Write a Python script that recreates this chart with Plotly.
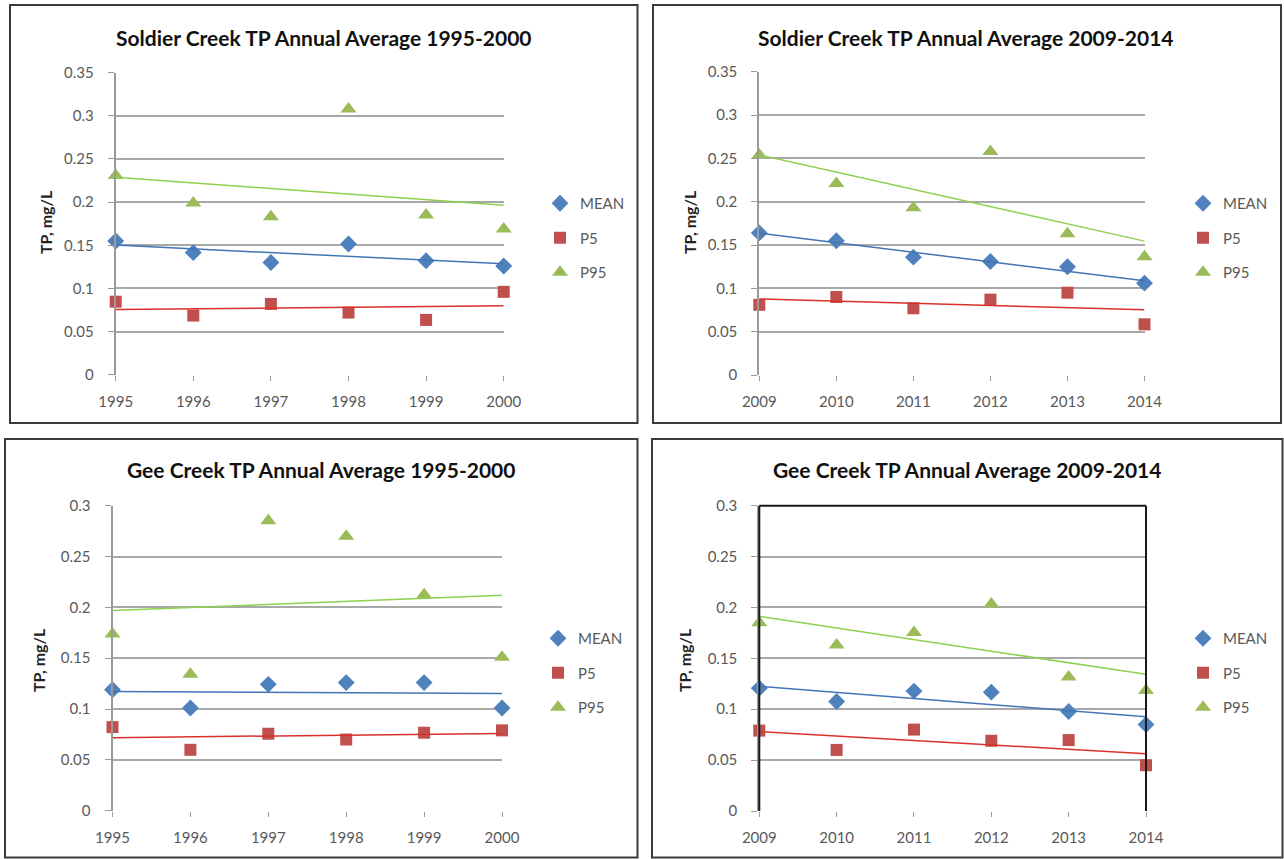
import numpy as np
import plotly.graph_objects as go

W, H = 1284, 859

# ---------------- data ----------------
years_early = [1995, 1996, 1997, 1998, 1999, 2000]
years_late = [2009, 2010, 2011, 2012, 2013, 2014]

soldier_early_mean = [0.155, 0.1415, 0.130, 0.1515, 0.132, 0.126]
soldier_early_p5 = [0.0846, 0.0685, 0.082, 0.072, 0.0635, 0.096]
soldier_early_p95 = [0.231, 0.199, 0.183, 0.308, 0.185, 0.169]

soldier_late_mean = [0.164, 0.155, 0.136, 0.131, 0.125, 0.106]
soldier_late_p5 = [0.081, 0.090, 0.077, 0.087, 0.095, 0.0585]
soldier_late_p95 = [0.254, 0.221, 0.193, 0.258, 0.163, 0.1365]

gee_early_mean = [0.119, 0.101, 0.1243, 0.126, 0.126, 0.101]
gee_early_p5 = [0.0822, 0.0599, 0.0757, 0.070, 0.0767, 0.079]
gee_early_p95 = [0.1737, 0.1342, 0.2852, 0.270, 0.2125, 0.151]

gee_late_mean = [0.1207, 0.1076, 0.1178, 0.1168, 0.0977, 0.0849]
gee_late_p5 = [0.079, 0.060, 0.080, 0.069, 0.0697, 0.045]
gee_late_p95 = [0.185, 0.163, 0.1753, 0.2033, 0.1316, 0.1184]

titles = [
    "Soldier Creek TP Annual Average 1995-2000",
    "Soldier Creek TP Annual Average 2009-2014",
    "Gee Creek TP Annual Average 1995-2000",
    "Gee Creek TP Annual Average 2009-2014",
]
series_names = ["MEAN", "P5", "P95"]
y_title = "TP, mg/L"

yticks_soldier = [0, 0.05, 0.1, 0.15, 0.2, 0.25, 0.3, 0.35]
yticklabels_soldier = ["0", "0.05", "0.1", "0.15", "0.2", "0.25", "0.3", "0.35"]
yticks_gee = [0, 0.05, 0.1, 0.15, 0.2, 0.25, 0.3]
yticklabels_gee = ["0", "0.05", "0.1", "0.15", "0.2", "0.25", "0.3"]

panels = [
    dict(x=years_early, s=[soldier_early_mean, soldier_early_p5, soldier_early_p95],
         yt=yticks_soldier, ytl=yticklabels_soldier),
    dict(x=years_late, s=[soldier_late_mean, soldier_late_p5, soldier_late_p95],
         yt=yticks_soldier, ytl=yticklabels_soldier),
    dict(x=years_early, s=[gee_early_mean, gee_early_p5, gee_early_p95],
         yt=yticks_gee, ytl=yticklabels_gee),
    dict(x=years_late, s=[gee_late_mean, gee_late_p5, gee_late_p95],
         yt=yticks_gee, ytl=yticklabels_gee),
]

# ---------------- styles / layout geometry (pixels) ----------------
marker_colors = ["#4F81BD", "#C0504D", "#9BBB59"]
trend_colors = ["#4275B5", "#D9302C", "#8ED04F"]
symbols = ["diamond", "square", "triangle-up"]
msizes = [13, 12, 14]

# plot areas: (x_left, x_right, y_top, y_bottom) in pixels
areas = [
    (115.7, 503.7, 72.7, 374.7),
    (759.3, 1144.5, 71.7, 375.0),
    (112.5, 502.0, 505.7, 810.7),
    (759.3, 1146.0, 505.7, 811.0),
]
borders = [
    (10, 637.5, 5, 423),
    (653, 1281, 5, 423),
    (5, 637.5, 439, 857.5),
    (652, 1282.5, 439, 857.5),
]
title_pos = [(324, 37), (966, 37), (321, 469), (967, 469)]
ytitle_pos = [(46, 222), (690, 222), (38, 660), (684, 660)]
legend_pos = [(540, 187), (1183, 187), (538, 622), (1183, 622)]

FONT = "Lato"


def px(x):
    return x / W


def py(y):
    return 1 - y / H


fig = go.Figure()

for i, p in enumerate(panels):
    k = "" if i == 0 else str(i + 1)
    xa, ya = "x" + k, "y" + k
    leg = "legend" + k
    xs = np.array(p["x"], dtype=float)
    for j in range(3):
        fig.add_trace(go.Scatter(
            x=p["x"], y=p["s"][j], mode="markers", name=series_names[j],
            marker=dict(symbol=symbols[j], size=msizes[j], color=marker_colors[j],
                        line=dict(width=0)),
            xaxis=xa, yaxis=ya, legend=leg, legendgroup=f"{i}_{j}",
            cliponaxis=False,
        ))
    for j in range(3):
        coef = np.polyfit(xs, np.array(p["s"][j]), 1)
        ends = np.array([xs[0], xs[-1]])
        fig.add_trace(go.Scatter(
            x=ends, y=np.polyval(coef, ends), mode="lines",
            line=dict(color=trend_colors[j], width=1.5),
            xaxis=xa, yaxis=ya, showlegend=False, hoverinfo="skip",
            cliponaxis=False,
        ))

    xl, xr, yt, yb = areas[i]
    fig.update_layout(**{
        "xaxis" + k: dict(
            domain=[px(xl), px(xr)], range=[p["x"][0], p["x"][-1]], anchor=ya,
            tickvals=p["x"], ticktext=[str(v) for v in p["x"]],
            showgrid=False, zeroline=False, showline=False, automargin=False,
            ticks="outside", ticklen=5, tickwidth=1, tickcolor="#9a9a9a",
            ticklabelstandoff=8,
            tickfont=dict(family=FONT, size=15, color="#595959"),
        ),
        "yaxis" + k: dict(
            domain=[py(yb), py(yt)], range=[0, p["yt"][-1]], anchor=xa,
            tickvals=p["yt"], ticktext=p["ytl"], automargin=False,
            showgrid=True, gridcolor="#a8a8a8", gridwidth=2,
            zeroline=False, showline=True, linecolor="#9a9a9a", linewidth=2,
            ticks="outside", ticklen=6, tickwidth=1, tickcolor="#9a9a9a",
            ticklabelstandoff=11,
            tickfont=dict(family=FONT, size=15, color="#595959"),
        ),
        leg: dict(
            x=px(legend_pos[i][0]), y=py(legend_pos[i][1]),
            xanchor="left", yanchor="top", xref="paper", yref="paper",
            font=dict(family=FONT, size=15, color="#595959"),
            bgcolor="rgba(0,0,0,0)", tracegroupgap=12, itemwidth=30,
            traceorder="grouped",
        ),
    })

    bx0, bx1, by0, by1 = borders[i]
    fig.add_shape(type="rect", xref="paper", yref="paper",
                  x0=px(bx0), x1=px(bx1), y0=py(by1), y1=py(by0),
                  line=dict(color="#3a3a3a", width=2))
    fig.add_annotation(text=f"<b>{titles[i]}</b>", xref="paper", yref="paper",
                       x=px(title_pos[i][0]), y=py(title_pos[i][1]),
                       xanchor="center", yanchor="middle", showarrow=False,
                       font=dict(family=FONT, size=21, color="#111111"))
    fig.add_annotation(text=f"<b>{y_title}</b>", xref="paper", yref="paper",
                       x=px(ytitle_pos[i][0]), y=py(ytitle_pos[i][1]),
                       xanchor="center", yanchor="middle", showarrow=False,
                       textangle=-90,
                       font=dict(family=FONT, size=16, color="#222222"))

# black plot-area frame (left, top, right) on the last panel
xl, xr, yt, yb = areas[3]
for (x0, y0, x1, y1) in [(xl, yb, xl, yt), (xl, yt, xr, yt), (xr, yt, xr, yb)]:
    fig.add_shape(type="line", xref="paper", yref="paper",
                  x0=px(x0), y0=py(y0), x1=px(x1), y1=py(y1),
                  line=dict(color="#1a1a1a", width=2))

fig.update_layout(
    width=W, height=H, margin=dict(l=0, r=0, t=0, b=0, autoexpand=False),
    paper_bgcolor="white", plot_bgcolor="white",
    showlegend=True,
)

fig.write_html(
    "out.html",
    config={"displayModeBar": False},
    post_script="document.body.style.margin='0';document.body.style.overflow='hidden';",
)
